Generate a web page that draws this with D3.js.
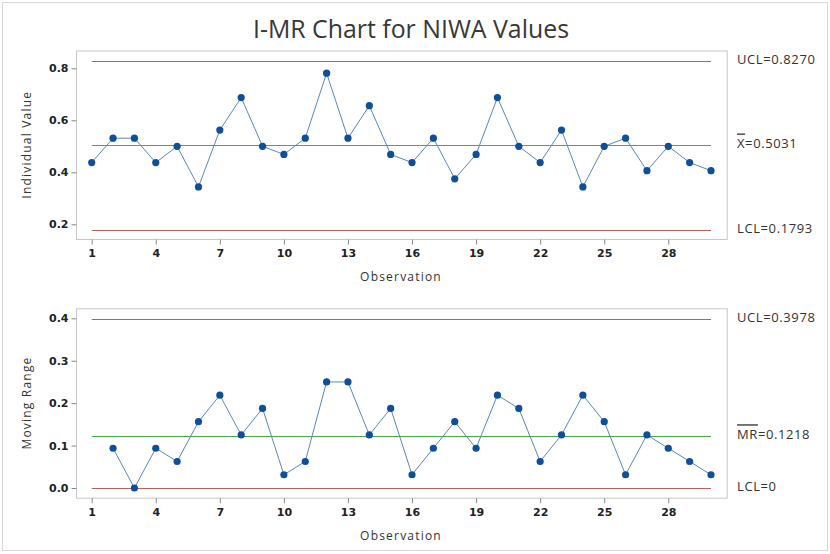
<!DOCTYPE html>
<html>
<head>
<meta charset="utf-8">
<script src="https://cdn.jsdelivr.net/npm/d3@7"></script>
<style>
  body { margin: 0; background: #fff; }
  .tick text { font-family: "DejaVu Sans", sans-serif; font-weight: bold; font-size: 11px; fill: #222; }
  .tick line { stroke: #888; }
  .domain { display: none; }
  .aTitle { font-family: "Open Sans", sans-serif; font-size: 12px; fill: #333; letter-spacing: 1.2px; }
  .limText { font-family: "Open Sans", sans-serif; font-size: 13px; fill: #333; letter-spacing: 0.6px; }
</style>
</head>
<body>
<div id="chart"></div>
<script>
var observations = d3.range(1, 31);
var individualValues = [0.4375, 0.53125, 0.53125, 0.4375, 0.5, 0.34375, 0.5625, 0.6875, 0.5, 0.46875,
  0.53125, 0.78125, 0.53125, 0.65625, 0.46875, 0.4375, 0.53125, 0.375, 0.46875, 0.6875,
  0.5, 0.4375, 0.5625, 0.34375, 0.5, 0.53125, 0.40625, 0.5, 0.4375, 0.40625];
var movingRanges = [null, 0.09375, 0, 0.09375, 0.0625, 0.15625, 0.21875, 0.125, 0.1875, 0.03125,
  0.0625, 0.25, 0.25, 0.125, 0.1875, 0.03125, 0.09375, 0.15625, 0.09375, 0.21875,
  0.1875, 0.0625, 0.125, 0.21875, 0.15625, 0.03125, 0.125, 0.09375, 0.0625, 0.03125];
var iLimits = { ucl: 0.8270, center: 0.5031, lcl: 0.1793 };
var mrLimits = { ucl: 0.3978, center: 0.1218, lcl: 0 };
var xTicks = [1, 4, 7, 10, 13, 16, 19, 22, 25, 28];
var iTicks = [0.2, 0.4, 0.6, 0.8];
var mrTicks = [0.0, 0.1, 0.2, 0.3, 0.4];

var width = 830;
var height = 554;

var svg = d3.select("#chart")
  .append("svg")
  .attr("width", width)
  .attr("height", height);

// outer border
svg.append("rect")
  .attr("x", 2.5).attr("y", 2.5)
  .attr("width", width - 5).attr("height", height - 6)
  .attr("fill", "#fff")
  .attr("stroke", "#d8d8d8");

svg.append("text")
  .attr("x", 411)
  .attr("y", 38)
  .attr("text-anchor", "middle")
  .attr("font-family", "Open Sans, sans-serif")
  .attr("font-size", 26)
  .attr("fill", "#383838")
  .attr("textLength", 316)
  .attr("lengthAdjust", "spacingAndGlyphs")
  .text("I-MR Chart for NIWA Values");

var frameLeft = 76;
var frameRight = 726.7;

var xScale = d3.scaleLinear()
  .domain([1, 30])
  .range([91.7, 711]);

function crisp(v) { return Math.round(v) + 0.5; }

function panel(opts) {
  var g = svg.append("g");
  var y = opts.yScale;

  g.append("rect")
    .attr("x", frameLeft + 0.5)
    .attr("y", opts.top + 0.5)
    .attr("width", frameRight - frameLeft)
    .attr("height", opts.bottom - opts.top)
    .attr("fill", "#fff")
    .attr("stroke", "#c8c8c8");

  var xAxis = d3.axisBottom(xScale).tickValues(xTicks).tickSize(5).tickPadding(5).tickFormat(d3.format("d"));
  g.append("g")
    .attr("transform", "translate(0," + (opts.bottom + 0.5) + ")")
    .call(xAxis);

  var yAxis = d3.axisLeft(y).tickValues(opts.ticks).tickSize(5).tickPadding(3).tickFormat(d3.format(".1f"));
  g.append("g")
    .attr("transform", "translate(" + (frameLeft + 0.5) + ",0)")
    .call(yAxis);

  // limit lines
  var lims = [
    { v: opts.limits.ucl, c: "#b5635f" },
    { v: opts.limits.lcl, c: "#b5635f" },
    { v: opts.limits.center, c: "#4fa84f" }
  ];
  g.selectAll("line.lim").data(lims).enter()
    .append("line")
    .attr("class", "lim")
    .attr("x1", xScale(1))
    .attr("x2", xScale(30))
    .attr("y1", function(d) { return crisp(y(d.v)); })
    .attr("y2", function(d) { return crisp(y(d.v)); })
    .style("stroke", function(d) { return d.c; })
    .style("stroke-width", 1);

  var pts = opts.values.map(function(v, i) { return { x: observations[i], v: v }; })
    .filter(function(d) { return d.v !== null; });

  var line = d3.line()
    .x(function(d) { return xScale(d.x); })
    .y(function(d) { return y(d.v); });

  g.append("path")
    .datum(pts)
    .attr("d", line)
    .attr("fill", "none")
    .attr("stroke", "#5b88b8")
    .attr("stroke-width", 1);

  g.selectAll("circle.pt").data(pts).enter()
    .append("circle")
    .attr("class", "pt")
    .attr("cx", function(d) { return xScale(d.x); })
    .attr("cy", function(d) { return y(d.v); })
    .attr("r", 3.6)
    .attr("fill", "#0f4f9a");

  // axis titles
  g.append("text")
    .attr("class", "aTitle")
    .attr("x", 401)
    .attr("y", opts.bottom + 42)
    .attr("text-anchor", "middle")
    .text("Observation");

  g.append("text")
    .attr("class", "aTitle")
    .attr("transform", "translate(31," + ((opts.top + opts.bottom) / 2) + ")rotate(-90)")
    .attr("text-anchor", "middle")
    .text(opts.yTitle);

  // limit labels
  var lx = 737;
  g.append("text").attr("class", "limText").attr("x", lx).attr("y", y(opts.limits.ucl) + 3)
    .text("UCL=" + opts.limits.ucl.toFixed(4));
  var ct = g.append("text").attr("class", "limText").attr("x", lx).attr("y", y(opts.limits.center) + 3);
  ct.append("tspan").attr("text-decoration", "overline").text(opts.centerName);
  ct.append("tspan").text("=" + opts.limits.center.toFixed(4));
  g.append("text").attr("class", "limText").attr("x", lx).attr("y", y(opts.limits.lcl) + 3)
    .text("LCL=" + (opts.limits.lcl === 0 ? "0" : opts.limits.lcl.toFixed(4)));
}

panel({
  top: 50.5,
  bottom: 239,
  yScale: d3.scaleLinear().domain([0.2, 0.8]).range([224.3, 68.3]),
  ticks: iTicks,
  values: individualValues,
  limits: iLimits,
  yTitle: "Individual Value",
  centerName: "X"
});

panel({
  top: 308.3,
  bottom: 497.7,
  yScale: d3.scaleLinear().domain([0, 0.4]).range([488, 318.3]),
  ticks: mrTicks,
  values: movingRanges,
  limits: mrLimits,
  yTitle: "Moving Range",
  centerName: "MR"
});
</script>
</body>
</html>
